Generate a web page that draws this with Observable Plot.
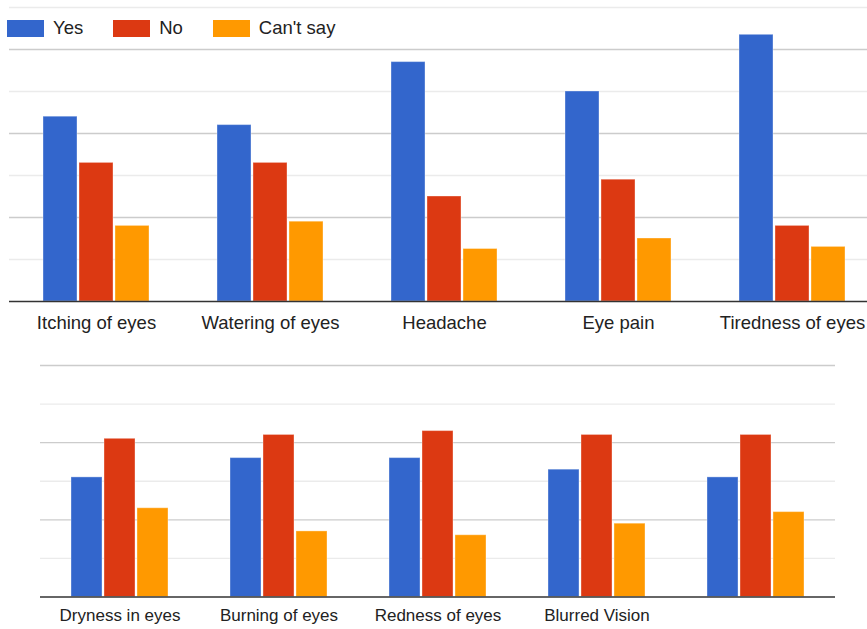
<!DOCTYPE html>
<html>
<head>
<meta charset="utf-8">
<script src="https://cdn.jsdelivr.net/npm/d3@7"></script>
<script src="https://cdn.jsdelivr.net/npm/@observablehq/plot@0.6"></script>
<style>
  html, body { margin: 0; padding: 0; background: #fff; overflow: hidden; width: 867px; height: 629px; }
  #top { position: absolute; left: 0; top: 0; width: 880px; }
  #bottom { position: absolute; left: 0; top: 340px; width: 867px; }
  #top svg, #bottom svg { max-width: none !important; height: auto; }
  #legend { position: absolute; left: 7px; top: 17px; display: flex; align-items: center;
            font: 18.5px "Liberation Sans", Arial, sans-serif; color: #222; }
  .item { display: flex; align-items: center; margin-right: 30px; }
  .sw { width: 37px; height: 17px; margin-right: 9px; }
</style>
</head>
<body>
<div id="top"></div>
<div id="bottom"></div>
<div id="legend"></div>
<script>
// ---- data ----
const series = ["Yes", "No", "Can't say"];
const seriesColors = ["#3366cc", "#dc3912", "#ff9900"];

const topCategories = ["Itching of eyes", "Watering of eyes", "Headache", "Eye pain", "Tiredness of eyes"];
const topYes      = [44, 42, 57, 50, 63.5];
const topNo       = [33, 33, 25, 29, 18];
const topCantSay  = [18, 19, 12.5, 15, 13];

const bottomCategories = ["Dryness in eyes", "Burning of eyes", "Redness of eyes", "Blurred Vision", ""];
const bottomYes     = [31, 36, 36, 33, 31];
const bottomNo      = [41, 42, 43, 42, 42];
const bottomCantSay = [23, 17, 16, 19, 22];

const topMax = 70;
const bottomMax = 60;
const majorTicks = [20, 40, 60];
const topMinorTicks = [10, 30, 50, 70];
const bottomMinorTicks = [10, 30, 50];

// ---- build rows ----
function rows(categories, yes, no, cant) {
  const vals = [yes, no, cant];
  return categories.flatMap((c, i) => series.map((s, j) => ({category: c, series: s, value: vals[j][i]})));
}

function panel(o) {
  return Plot.plot({
    width: o.width, height: o.height,
    marginTop: o.marginTop, marginBottom: o.marginBottom,
    marginLeft: o.marginLeft, marginRight: o.marginRight,
    style: {fontFamily: '"Liberation Sans", Arial, sans-serif', fontSize: o.fontSize + "px",
            color: "#222", background: "transparent", overflow: "visible", maxWidth: "none"},
    fx: {domain: o.categories, padding: 0, label: null, tickSize: 0, tickPadding: o.tickPadding, axis: "bottom"},
    x: {domain: series, axis: null, paddingInner: 0.05, paddingOuter: o.xPadOuter},
    y: {domain: [0, o.yMax], axis: null},
    color: {domain: series, range: seriesColors},
    marks: [
      Plot.ruleY(o.minor, {stroke: "#ebebeb", strokeWidth: 1.3}),
      Plot.ruleY(majorTicks, {stroke: "#cccccc", strokeWidth: 1.3}),
      Plot.barY(o.data, {fx: "category", x: "series", y: "value", fill: "series",
                         stroke: "white", strokeOpacity: 0.35, strokeWidth: 1}),
      Plot.ruleY([0], {stroke: "#333", strokeWidth: 1.6})
    ]
  });
}

document.getElementById("top").append(panel({
  data: rows(topCategories, topYes, topNo, topCantSay),
  categories: topCategories, yMax: topMax, minor: topMinorTicks,
  width: 880, height: 340, marginTop: 7, marginBottom: 39, marginLeft: 8, marginRight: 0,
  xPadOuter: 0.929, fontSize: 18.5, tickPadding: 14
}));

document.getElementById("bottom").append(panel({
  data: rows(bottomCategories, bottomYes, bottomNo, bottomCantSay),
  categories: bottomCategories, yMax: bottomMax, minor: bottomMinorTicks,
  width: 867, height: 289, marginTop: 25, marginBottom: 32.5, marginLeft: 38, marginRight: 31,
  xPadOuter: 0.879, fontSize: 17, tickPadding: 12
}));

// ---- legend ----
const legend = document.getElementById("legend");
series.forEach((s, i) => {
  const item = document.createElement("div");
  item.className = "item";
  const sw = document.createElement("div");
  sw.className = "sw";
  sw.style.background = seriesColors[i];
  const label = document.createElement("span");
  label.textContent = s;
  item.append(sw, label);
  legend.append(item);
});
</script>
</body>
</html>
